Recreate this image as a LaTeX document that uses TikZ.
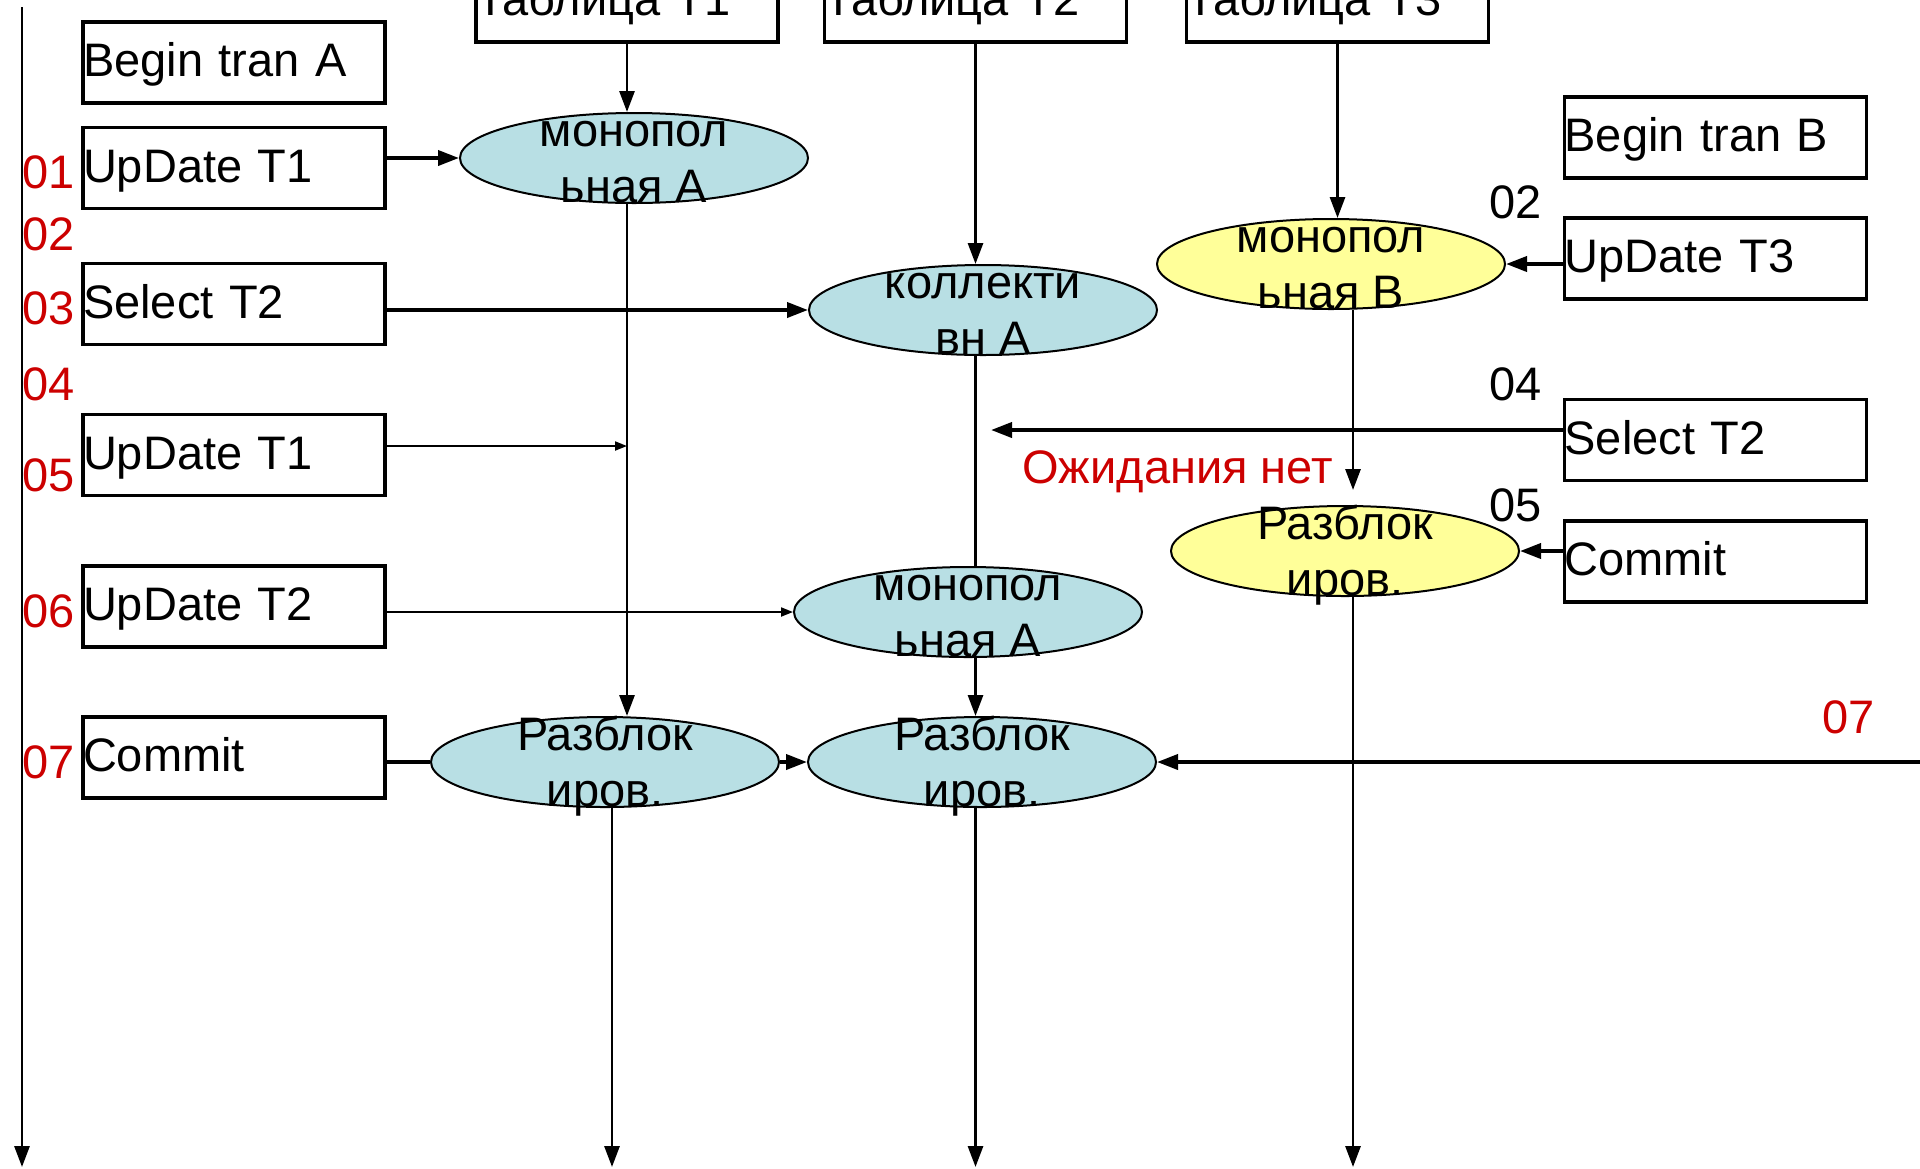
\documentclass[tikz,border=0pt]{standalone}
\usepackage{fontspec}
\setmainfont{Liberation Sans}
\usetikzlibrary{shapes.geometric,arrows.meta}
\definecolor{lockblue}{RGB}{184,223,228}
\definecolor{lockyellow}{RGB}{255,255,153}
\definecolor{stepred}{RGB}{204,0,0}
% two centred lines, baseline of the node on the first line
\newcommand\twolines[2]{\begin{tabular}[t]{@{}c@{}}#1\\#2\end{tabular}}
\begin{document}
\begin{tikzpicture}[x=0.5pt,y=-0.5pt,
  font=\fontsize{23.5pt}{28pt}\selectfont,
  opbox/.style={draw, line width=1.75pt, minimum width=151pt, minimum height=40.5pt,
    text width=151pt, inner xsep=0pt, inner ysep=0pt, align=left,
    text height=17pt, text depth=3pt},
  lock/.style={ellipse, draw, line width=1pt, minimum width=174pt,
    minimum height=45pt, inner sep=0pt},
  blue lock/.style={lock, fill=lockblue},
  yellow lock/.style={lock, fill=lockyellow},
  locktext/.style={anchor=base, yshift=6pt, inner sep=0pt},
  steplbl/.style={anchor=base west, inner sep=0pt, text=stepred},
  blacklbl/.style={anchor=base west, inner sep=0pt},
  bigtip/.style={-{Triangle[length=10.5pt,width=7.5pt]}},
  smalltip/.style={-{Triangle[length=6pt,width=4.5pt]}},
  heavy/.style={line width=1.9pt},
  lane/.style={line width=1.45pt},
  light/.style={line width=1pt},
]
\useasboundingbox (0,0) rectangle (1920,1168);
\clip (0,0) rectangle (1920,1168);

% tables
\node[opbox] (t1) at (627,1.5) {Таблица Т1};
\node[opbox] (t2) at (975.5,1.5) {Таблица Т2};
\node[opbox] (t3) at (1337.5,1.5) {Таблица Т3};

% transaction A
\node[opbox] (bA) at (234,62.5) {Begin tran A};
\node[opbox] (uA1) at (234,168) {UpDate T1};
\node[opbox] (sA) at (234,304) {Select T2};
\node[opbox] (uA2) at (234,455) {UpDate T1};
\node[opbox] (uA3) at (234,606.5) {UpDate T2};
\node[opbox] (cA) at (234,757.5) {Commit};

% transaction B
\node[opbox] (bB) at (1715.5,137.5) {Begin tran B};
\node[opbox] (uB) at (1715.5,258.5) {UpDate T3};
\node[opbox] (sB) at (1715.5,440) {Select T2};
\node[opbox] (cB) at (1715.5,561.5) {Commit};

% locks
\node[blue lock] (e1) at (634,158) {};
\node[blue lock] (ek) at (983,310) {};
\node[yellow lock] (emB) at (1331,264) {};
\node[yellow lock] (ruB) at (1345,551) {};
\node[blue lock] (em2) at (968,612) {};
\node[blue lock] (ru1) at (605,762) {};
\node[blue lock] (ru2) at (982,762) {};

% free ends
\coordinate (tl0) at (22,7);
\coordinate (tl1) at (22,1167);
\coordinate (x1bot) at (612,1167);
\coordinate (x2bot) at (975.5,1167);
\coordinate (x3bot) at (1353,1167);
\coordinate (wait) at (1353,490);
\coordinate (hitT1) at (627,446);
\coordinate (noWait) at (991,430);
\coordinate (edge07) at (1920,762);

% time axis
\draw[lane,bigtip] (tl0) -- (tl1);

% table T1 lane
\draw[lane,bigtip] (t1.south) -- (t1.south |- e1.north);
\draw[lane,bigtip] (t1.south |- e1.south) -- (t1.south |- ru1.north);
\draw[lane,bigtip] (x1bot |- ru1.south) -- (x1bot);

% table T2 lane
\draw[lane,bigtip] (t2.south) -- (t2.south |- ek.north);
\draw[lane] (t2.south |- ek.south) -- (t2.south |- em2.north);
\draw[lane,bigtip] (t2.south |- em2.south) -- (t2.south |- ru2.north);
\draw[lane,bigtip] (x2bot |- ru2.south) -- (x2bot);

% table T3 lane
\draw[lane,bigtip] (t3.south) -- (t3.south |- emB.north);
\draw[lane,bigtip] (wait |- emB.south) -- (wait);
\draw[lane,bigtip] (x3bot |- ruB.south) -- (x3bot);

% requests of A
\draw[heavy,bigtip] (e1.west -| uA1.east) -- (e1.west);
\draw[heavy,bigtip] (ek.west -| sA.east) -- (ek.west);
\draw[light,smalltip] (hitT1 -| uA2.east) -- (hitT1);
\draw[light,smalltip] (em2.west -| uA3.east) -- (em2.west);
\draw[heavy] (ru1.west -| cA.east) -- (ru1.west);
\draw[heavy,bigtip] (ru1.east) -- (ru2.west);
\draw[heavy,bigtip] (edge07) -- (ru2.east);

% requests of B
\draw[heavy,bigtip] (emB.east -| uB.west) -- (emB.east);
\draw[heavy,bigtip] (noWait -| sB.west) -- (noWait);
\draw[heavy,bigtip] (ruB.east -| cB.west) -- (ruB.east);

% lock captions
\node[locktext] (e1t) at (e1) {\twolines{монопол}{ьная А}};
\node[locktext] (ekt) at (ek) {\twolines{коллекти}{вн А}};
\node[locktext] (emBt) at (emB) {\twolines{монопол}{ьная В}};
\node[locktext] (ruBt) at (ruB) {\twolines{Разблок}{иров.}};
\node[locktext] (em2t) at (em2) {\twolines{монопол}{ьная А}};
\node[locktext] (ru1t) at (ru1) {\twolines{Разблок}{иров.}};
\node[locktext] (ru2t) at (ru2) {\twolines{Разблок}{иров.}};

% step numbers
\node[steplbl] (s01) at (22,188) {01};
\node[steplbl] (s02) at (22,250) {02};
\node[steplbl] (s03) at (22,324) {03};
\node[steplbl] (s04) at (22,400) {04};
\node[steplbl] (s05) at (22,491) {05};
\node[steplbl] (s06) at (22,627) {06};
\node[steplbl] (s07) at (22,778) {07};
\node[steplbl] (s07b) at (1822,733) {07};
\node[blacklbl] (b02) at (1489,218) {02};
\node[blacklbl] (b04) at (1489,400) {04};
\node[blacklbl] (b05) at (1489,521) {05};
\node[steplbl] (nowaitlbl) at (1022,483) {Ожидания нет};
\end{tikzpicture}
\end{document}
